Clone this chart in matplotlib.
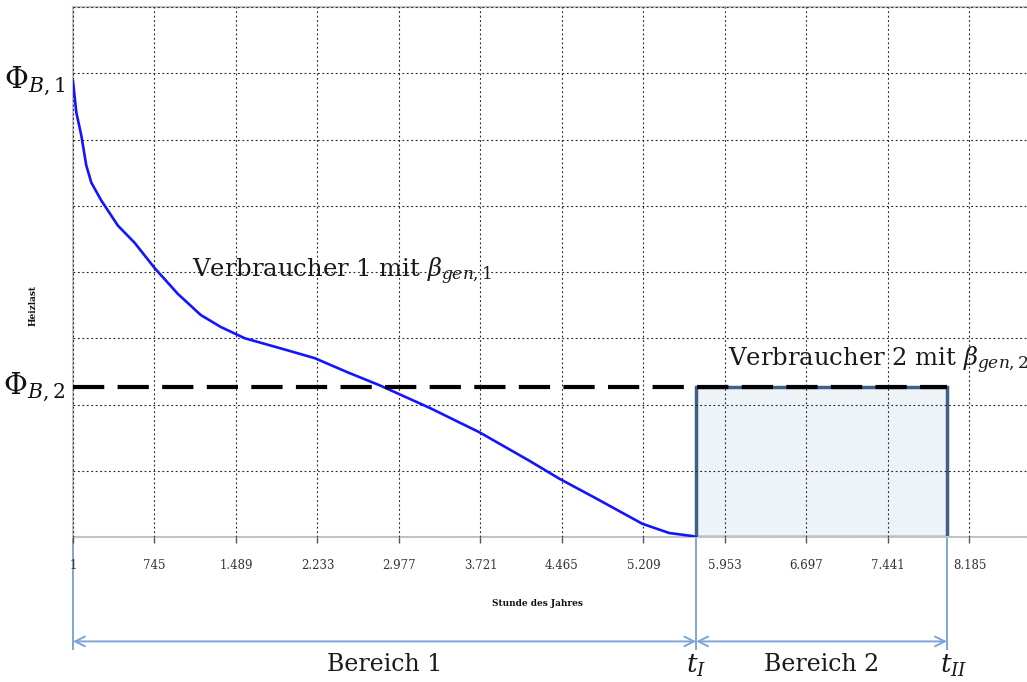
import matplotlib
matplotlib.use('Agg')
import matplotlib.pyplot as plt
from matplotlib.patches import Rectangle

plt.rcParams['font.family'] = ['DejaVu Serif']
plt.rcParams['mathtext.fontset'] = 'dejavuserif'

# ---- data ----
hours = [1, 31, 77, 122, 168, 259, 411, 564, 746, 958, 1168, 1350, 1569, 1891,
         2207, 2502, 2800, 3256, 3712, 4168, 4441, 4779, 5198, 5444, 5654, 5690]
load = [6.88, 6.41, 6.06, 5.61, 5.35, 5.08, 4.70, 4.44, 4.06, 3.67, 3.35, 3.17, 3.00, 2.85,
        2.70, 2.49, 2.29, 1.95, 1.58, 1.15, 0.88, 0.58, 0.20, 0.06, 0.015, 0.0]

phi_B1 = 6.88
phi_B2 = 2.26
t_I = 5690
t_II = 7979

xtick_vals = [1, 745, 1489, 2233, 2977, 3721, 4465, 5209, 5953, 6697, 7441, 8185]
xtick_labels = ['1', '745', '1.489', '2.233', '2.977', '3.721', '4.465', '5.209',
                '5.953', '6.697', '7.441', '8.185']
ytick_vals = [0, 1, 2, 3, 4, 5, 6, 7, 8]

# ---- figure ----
W, H = 1027, 682
fig = plt.figure(figsize=(W / 100, H / 100), dpi=100)
left_px, bottom_px, top_px = 73, 537, 7
ax = fig.add_axes([left_px / W, 1 - bottom_px / H, (W - left_px) / W, (bottom_px - top_px) / H])
ax.set_xlim(1, 1 + (W - left_px) * 9.129)
ax.set_ylim(0, 8)

ax.set_xticks(xtick_vals)
ax.set_xticklabels(xtick_labels, fontsize=8.5, color='#333333')
ax.set_yticks(ytick_vals)
ax.set_yticklabels([])
ax.tick_params(axis='x', direction='out', length=4, width=1, color='#555555', pad=12)
ax.tick_params(axis='y', length=0)

ax.set_axisbelow(False)
ax.grid(True, color='#222222', linestyle=(0, (1.6, 2.4)), linewidth=0.8)

for s in ['left', 'top', 'bottom']:
    ax.spines[s].set_color('#c4c4c4')
    ax.spines[s].set_linewidth(1.5)
ax.spines['right'].set_visible(False)

# rectangle for consumer 2
rect = Rectangle((t_I, 0), t_II - t_I, phi_B2, facecolor='#eef3f8',
                 edgecolor='#3f5f88', linewidth=2.5, zorder=1)
ax.add_patch(rect)

# load duration curve
ax.plot(hours, load, color='#1414ff', linewidth=1.9, zorder=3,
        solid_joinstyle='round')

# dashed level line
ax.plot([1, t_II], [phi_B2, phi_B2], color='black', linewidth=3,
        dashes=(7.5, 3.2), zorder=4)

# annotation lines below the axis
xt = ax.get_xaxis_transform()
acol = '#7fa5d8'
yb2 = phi_B2 / 8
y_arrow = -0.197
y_low = -0.212
for xv in [1, t_I, t_II]:
    ax.plot([xv, xv], [yb2, y_low], transform=xt, color=acol, linewidth=1.4,
            clip_on=False, zorder=0.5)
for (a, b) in [(1, t_I), (t_I, t_II)]:
    ax.annotate('', xy=(a, y_arrow), xytext=(b, y_arrow), xycoords=xt, textcoords=xt,
                arrowprops=dict(arrowstyle='<->,head_length=0.7,head_width=0.35',
                                color=acol, linewidth=1.4, shrinkA=0, shrinkB=0))

ax.text((1 + t_I) / 2, -0.240, 'Bereich 1', transform=xt, ha='center', va='center',
        fontsize=17, color='#1a1a1a')
ax.text((t_I + t_II) / 2, -0.240, 'Bereich 2', transform=xt, ha='center', va='center',
        fontsize=17, color='#1a1a1a')
ax.text(t_I, -0.243, r'$t_I$', transform=xt, ha='center', va='center', fontsize=19,
        color='#1a1a1a')
ax.text(t_II + 60, -0.243, r'$t_{II}$', transform=xt, ha='center', va='center', fontsize=19,
        color='#1a1a1a')

# axis titles
fig.text(537 / W, 1 - 604 / H, 'Stunde des Jahres', ha='center', va='center',
         fontsize=6.5, fontweight='bold', color='#111111')
fig.text(33 / W, 1 - 305 / H, 'Heizlast', ha='center', va='center', rotation=90,
         fontsize=6.5, fontweight='bold', color='#111111')

# Phi labels
yt = ax.get_yaxis_transform()
ax.text(-0.008, phi_B1, r'$\Phi_{B,1}$', transform=yt, ha='right', va='center',
        fontsize=21, color='#111111')
ax.text(-0.008, phi_B2, r'$\Phi_{B,2}$', transform=yt, ha='right', va='center',
        fontsize=21, color='#111111')

# consumer labels
ax.text(1 + (192 - left_px) * 9.129, (bottom_px - 277) / 66.25,
        r'Verbraucher 1 mit $\beta_{gen,1}$', ha='left', va='baseline',
        fontsize=17.5, color='#1a1a1a', zorder=5)
ax.text(1 + (728 - left_px) * 9.129, (bottom_px - 366) / 66.25,
        r'Verbraucher 2 mit $\beta_{gen,2}$', ha='left', va='baseline',
        fontsize=17.5, color='#1a1a1a', zorder=5, clip_on=False)

fig.savefig('out.png', dpi=100)
